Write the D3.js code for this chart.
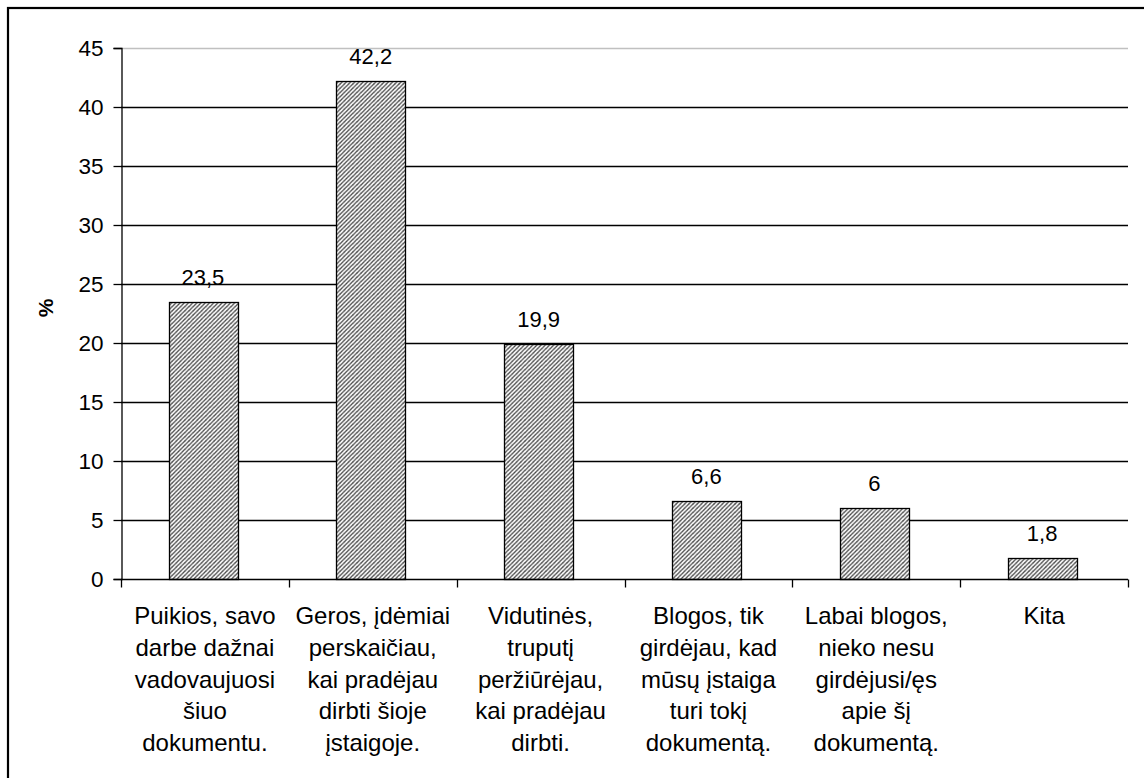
<!DOCTYPE html>
<html><head><meta charset="utf-8">
<script src="https://cdn.jsdelivr.net/npm/d3@7"></script>
<style>body{margin:0;background:#fff}svg{display:block}text{font-family:"Liberation Sans",Arial,sans-serif;fill:#000}</style>
</head><body>
<svg id="c" width="1144" height="778"></svg>
<script>
const categories = [
  ["Puikios, savo", "darbe dažnai", "vadovaujuosi", "šiuo", "dokumentu."],
  ["Geros, įdėmiai", "perskaičiau,", "kai pradėjau", "dirbti šioje", "įstaigoje."],
  ["Vidutinės,", "truputį", "peržiūrėjau,", "kai pradėjau", "dirbti."],
  ["Blogos, tik", "girdėjau, kad", "mūsų įstaiga", "turi tokį", "dokumentą."],
  ["Labai blogos,", "nieko nesu", "girdėjusi/ęs", "apie šį", "dokumentą."],
  ["Kita"]
];
const values = [23.5, 42.2, 19.9, 6.6, 6, 1.8];
const yTicks = [0, 5, 10, 15, 20, 25, 30, 35, 40, 45];
const yLabel = "%";

const svg = d3.select("#c");
const m = {left: 121, right: 1128, top: 48, bottom: 579};

// outer frame
svg.append("rect").attr("x", 8).attr("y", 8).attr("width", 1160).attr("height", 800)
  .attr("fill", "none").attr("stroke", "#000").attr("stroke-width", 2.2);

const defs = svg.append("defs");
const pat = defs.append("pattern").attr("id", "hatch").attr("patternUnits", "userSpaceOnUse")
  .attr("width", 4.2).attr("height", 4.2);
pat.append("rect").attr("width", 4.2).attr("height", 4.2).attr("fill", "#fff");
pat.append("path").attr("d", "M-1,1.1 L1.1,-1 M0,4.2 L4.2,0 M3.1,5.2 L5.2,3.1")
  .attr("stroke", "#4a4a4a").attr("stroke-width", 1.3);

const x = d3.scaleBand().domain(d3.range(categories.length)).range([m.left, m.right]).padding(0);
const y = d3.scaleLinear().domain([0, 45]).range([m.bottom, m.top]);

// gridlines
svg.append("g").selectAll("line").data(yTicks.filter(d => d > 0)).join("line")
  .attr("x1", m.left).attr("x2", m.right)
  .attr("y1", d => Math.round(y(d)) + 0.5).attr("y2", d => Math.round(y(d)) + 0.5)
  .attr("stroke", d => d === 45 ? "#c0c0c0" : "#000").attr("stroke-width", d => d === 45 ? 1.5 : 1.3);

// y axis
const yAxis = d3.axisLeft(y).tickValues(yTicks).tickSize(8).tickPadding(10).tickFormat(d3.format("d"));
const gy = svg.append("g").attr("transform", `translate(${m.left + 0.5},0)`).call(yAxis);
gy.select(".domain").attr("stroke", "#000").attr("stroke-width", 1.3);
gy.selectAll(".tick line").attr("stroke", "#000").attr("stroke-width", 1.3);
gy.selectAll(".tick text").style("font-size", "22.5px").style("font-family", "Liberation Sans, Arial, sans-serif").attr("fill", "#000");

// bars
const bw = x.bandwidth() * 0.41;
svg.append("g").selectAll("rect").data(values).join("rect")
  .attr("x", (d, i) => Math.round(x(i) + x.bandwidth() / 2 - bw / 2) - 1.5)
  .attr("width", Math.round(bw))
  .attr("y", d => Math.round(y(d)) + 0.5)
  .attr("height", d => Math.round(y(0)) - Math.round(y(d)))
  .attr("fill", "url(#hatch)").attr("stroke", "#000").attr("stroke-width", 1.3);

// value labels
svg.append("g").selectAll("text").data(values).join("text")
  .attr("x", (d, i) => x(i) + x.bandwidth() / 2 - 2)
  .attr("y", d => y(d) - 17)
  .attr("text-anchor", "middle").style("font-size", "22px")
  .text(d => String(d).replace(".", ","));

// x axis
const gx = svg.append("g").attr("transform", `translate(0,${Math.round(y(0)) + 0.5})`);
gx.append("line").attr("x1", m.left).attr("x2", m.right).attr("stroke", "#000").attr("stroke-width", 1.3);
gx.selectAll("line.t").data(d3.range(categories.length + 1)).join("line").attr("class", "t")
  .attr("x1", i => Math.round(m.left + i * x.step()) + 0.5).attr("x2", i => Math.round(m.left + i * x.step()) + 0.5)
  .attr("y1", 0).attr("y2", 8).attr("stroke", "#000").attr("stroke-width", 1.3);

// category labels
const cl = svg.append("g").selectAll("text").data(categories).join("text")
  .attr("text-anchor", "middle").style("font-size", "24px")
  .attr("transform", (d, i) => `translate(${x(i) + x.bandwidth() / 2},${y(0) + 45})`);
cl.selectAll("tspan").data(d => d).join("tspan")
  .attr("x", 0).attr("y", (d, j) => j * 31.8).text(d => d);

// y label
svg.append("text").attr("transform", "translate(53,308) rotate(-90)")
  .attr("text-anchor", "middle").style("font-size", "21px").style("font-weight", "bold").text(yLabel);
</script>
</body></html>
